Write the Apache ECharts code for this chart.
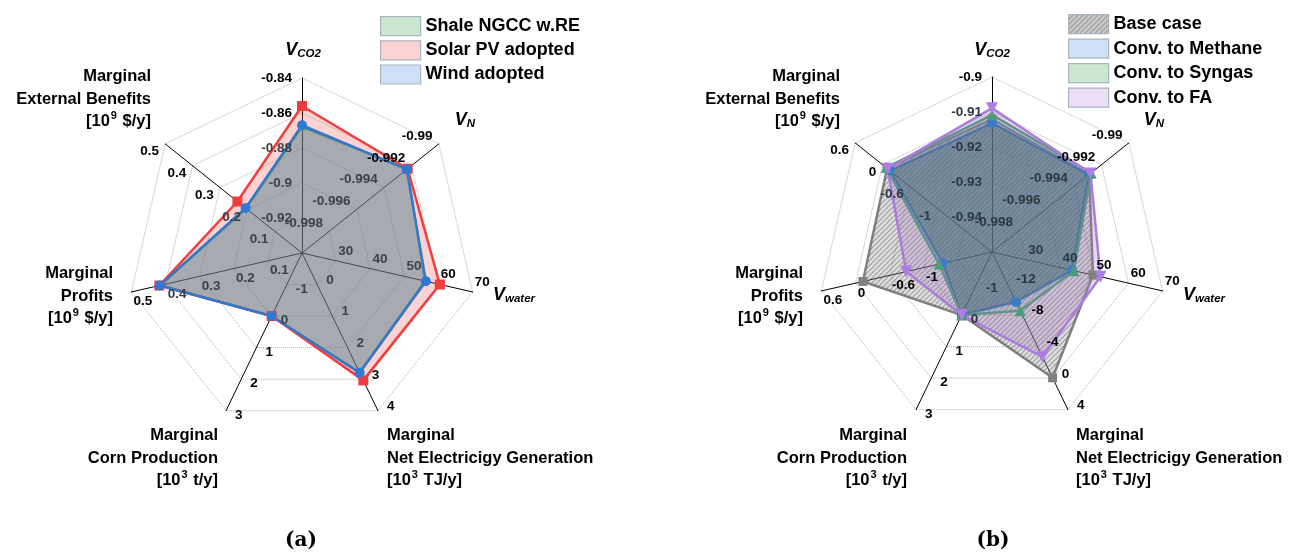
<!DOCTYPE html>
<html><head><meta charset="utf-8">
<script src="https://cdn.jsdelivr.net/npm/echarts@6/dist/echarts.min.js"></script>
<style>html,body{margin:0;padding:0;background:#fff}#c{width:1291px;height:553px}</style>
</head><body><div id="c"></div>
<script>
// Indicator order as ECharts lays them out (counter-clockwise from the top)
const indicatorKeys = ['V_CO2', 'ExtBen', 'Profits', 'Corn', 'NetElec', 'Water', 'V_N'];

// ---- Panel (a) axis ranges and tick labels (ring 0 = centre ... ring 5 = outer) ----
const minA = [-0.94, 0, 0, -2, -1, 20, -1.0];
const maxA = [-0.84, 0.5, 0.5, 3, 4, 70, -0.99];
const ticksA = [
  ['', '-0.92', '-0.9', '-0.88', '-0.86', '-0.84'],
  ['', '0.1', '0.2', '0.3', '0.4', '0.5'],
  ['', '0.1', '0.2', '0.3', '0.4', '0.5'],
  ['', '-1', '0', '1', '2', '3'],
  ['', '0', '1', '2', '3', '4'],
  ['', '30', '40', '50', '60', '70'],
  ['', '-0.998', '-0.996', '-0.994', '-0.992', '-0.99']
];
// ---- Panel (b) axis ranges and tick labels ----
const minB = [-0.95, -2.4, -2.4, -2, -16, 20, -1.0];
const maxB = [-0.90, 0.6, 0.6, 3, 4, 70, -0.99];
const ticksB = [
  ['', '-0.94', '-0.93', '-0.92', '-0.91', '-0.9'],
  ['', '', '-1', '-0.6', '0', '0.6'],
  ['', '', '-1', '-0.6', '0', '0.6'],
  ['', '-1', '0', '1', '2', '3'],
  ['', '-12', '-8', '-4', '0', '4'],
  ['', '30', '40', '50', '60', '70'],
  ['', '-0.998', '-0.996', '-0.994', '-0.992', '-0.99']
];

// ---- Series values (same order as indicatorKeys) ----
const shaleNGCC = [-0.868, 0.204, 0.415, 0.0, 2.78, 56.0, -0.9923];
const solarPV   = [-0.856, 0.236, 0.418, 0.0, 3.04, 60.4, -0.99228];
const windAdopt = [-0.867, 0.206, 0.417, 0.0, 2.80, 56.3, -0.99234];

const baseCase   = [-0.912, -0.10, -0.13, 0.0, -0.04, 49.6, -0.9929];
const convMeth   = [-0.9131, -0.16, -1.53, 0.0, -9.66, 43.5, -0.9929];
const convSyngas = [-0.9108, -0.08, -1.47, 0.0, -8.55, 44.0, -0.99275];
const convFA     = [-0.9089, -0.11, -0.89, 0.0, -2.70, 51.8, -0.9928];

const FONT = 'Arial, "Liberation Sans", sans-serif';

function hatch(bg, line, size) {
  const c = document.createElement('canvas');
  c.width = size; c.height = size;
  const g = c.getContext('2d');
  g.fillStyle = bg; g.fillRect(0, 0, size, size);
  g.strokeStyle = line; g.lineWidth = 1.2;
  g.beginPath();
  g.moveTo(-1, size + 1); g.lineTo(size + 1, -1);
  g.moveTo(-1, 1); g.lineTo(1, -1);
  g.moveTo(size - 1, size + 1); g.lineTo(size + 1, size - 1);
  g.stroke();
  return c;
}
const hatchArea = hatch('rgba(150,150,150,0.30)', 'rgba(80,80,80,0.45)', 5);
const hatchLegend = hatch('#d2d2d2', '#8a8a8a', 5);

function indicators(mins, maxs, ticks, inner, dim) {
  return indicatorKeys.map((k, i) => {
    const step = (maxs[i] - mins[i]) / 5;
    return {
      name: k, min: mins[i], max: maxs[i],
      axisLabel: {
        formatter: function (v) {
          const idx = Math.round((v - mins[i]) / step);
          return ticks[i][idx] || '';
        },
        color: function (v) {
          return parseFloat(v) <= inner[i] + step * 0.1 ? dim : '#000';
        }
      }
    };
  });
}

// lower radar: axis lines and dotted rings (under the series)
function radarGrid(center, mins, maxs) {
  return {
    center: center, radius: 175, startAngle: 90, splitNumber: 5, shape: 'polygon', z: 0,
    indicator: indicatorKeys.map((k, i) => ({ name: k, min: mins[i], max: maxs[i] })),
    axisName: { show: false },
    axisLine: { lineStyle: { color: '#000', width: 1 } },
    axisTick: { show: false },
    axisLabel: { show: false },
    splitLine: { lineStyle: { color: '#b0b0b0', type: 'dotted', width: 1 } },
    splitArea: { show: false }
  };
}
// upper radar: only tick labels (above the series)
function radarLabels(center, mins, maxs, ticks, inner, dim) {
  return {
    center: center, radius: 175, startAngle: 90, splitNumber: 5, shape: 'polygon', z: 5,
    indicator: indicators(mins, maxs, ticks, inner, dim),
    axisName: { show: false },
    axisLine: { show: false },
    axisTick: { show: false },
    splitLine: { show: false },
    splitArea: { show: false },
    axisLabel: { show: true, fontSize: 13.5, fontWeight: 'bold', fontFamily: FONT, margin: 10 }
  };
}

function item(name, value, color, fill, symbol, size, lw) {
  return {
    name: name, value: value, symbol: symbol, symbolSize: size,
    itemStyle: { color: color },
    lineStyle: { color: color, width: lw || 2.5 },
    areaStyle: { color: fill, opacity: 1 }
  };
}
const downTri = 'path://M0,0L10,0L5,9Z';

const series = [
  { type: 'radar', radarIndex: 0, data: [item('Shale NGCC w.RE', shaleNGCC, '#52a35e', 'rgba(110,190,120,0.15)', 'triangle', 7, 2)] },
  { type: 'radar', radarIndex: 0, data: [item('Solar PV adopted', solarPV, '#f03c3c', 'rgba(240,80,80,0.25)', 'rect', 10)] },
  { type: 'radar', radarIndex: 0, data: [item('Wind adopted', windAdopt, '#2e78d6', 'rgba(75,125,150,0.42)', 'circle', 10)] },
  { type: 'radar', radarIndex: 1, data: [item('Base case', baseCase, '#808080', { image: hatchArea, repeat: 'repeat' }, 'rect', 9)] },
  { type: 'radar', radarIndex: 1, data: [item('Conv. to Methane', convMeth, '#3b7bc8', 'rgba(10,78,88,0.52)', 'circle', 10)] },
  { type: 'radar', radarIndex: 1, data: [item('Conv. to Syngas', convSyngas, '#4a9d78', 'rgba(80,160,120,0.2)', 'triangle', 11)] },
  { type: 'radar', radarIndex: 1, data: [item('Conv. to FA', convFA, '#ad7de3', 'rgba(165,120,195,0.28)', downTri, 12)] }
];

const legendText = { fontSize: 18, fontWeight: 'bold', color: '#000', fontFamily: FONT };
function legItem(name, fill) {
  return { name: name, icon: 'rect', itemStyle: { color: fill, borderColor: '#a9b4bf', borderWidth: 1.2 } };
}

function nameBlock(l1, l2, unitBase, unitTail, x, y, align) {
  return {
    type: 'text', x: x, y: y, silent: true,
    style: {
      text: '{b|' + l1 + '}\n{b|' + l2 + '}\n{b|[10}{sup|' + unitBase + '}{b|' + unitTail + ']}',
      align: align, verticalAlign: 'middle',
      rich: {
        b: { fontSize: 16.5, fontWeight: 'bold', fontFamily: FONT, lineHeight: 22.5, fill: '#000', align: align },
        sup: { fontSize: 11, fontWeight: 'bold', fontFamily: FONT, lineHeight: 22.5, fill: '#000', verticalAlign: 'top', padding: [0, 1, 8, 1] }
      }
    }
  };
}
function vName(sub, x, y, align) {
  return {
    type: 'text', x: x, y: y, silent: true,
    style: {
      text: '{v|V}{s|' + sub + '}', align: align, verticalAlign: 'middle',
      rich: {
        v: { fontSize: 18, fontWeight: 'bold', fontStyle: 'italic', fontFamily: FONT, fill: '#000', lineHeight: 20 },
        s: { fontSize: 11.5, fontWeight: 'bold', fontStyle: 'italic', fontFamily: FONT, fill: '#000', lineHeight: 20, verticalAlign: 'bottom', padding: [6, 0, 0, 0] }
      }
    }
  };
}
function caption(t, x) {
  return { type: 'text', x: x, y: 541, silent: true,
    style: { text: t, align: 'center', verticalAlign: 'middle', fontSize: 20, fontWeight: 'bold', fontFamily: '"DejaVu Serif", "Liberation Serif", serif', fill: '#000' } };
}

const graphics = [
  vName('CO2', 303, 50, 'center'),
  vName('N', 465, 120, 'center'),
  vName('water', 493, 295, 'left'),
  nameBlock('Marginal', 'External Benefits', '9', ' $/y', 151, 99, 'right'),
  nameBlock('Marginal', 'Profits', '9', ' $/y', 113, 296, 'right'),
  nameBlock('Marginal', 'Corn Production', '3', ' t/y', 218, 458, 'right'),
  nameBlock('Marginal', 'Net Electricigy Generation', '3', ' TJ/y', 387, 458, 'left'),
  vName('CO2', 992, 50, 'center'),
  vName('N', 1154, 120, 'center'),
  vName('water', 1183, 295, 'left'),
  nameBlock('Marginal', 'External Benefits', '9', ' $/y', 840, 99, 'right'),
  nameBlock('Marginal', 'Profits', '9', ' $/y', 803, 296, 'right'),
  nameBlock('Marginal', 'Corn Production', '3', ' t/y', 907, 458, 'right'),
  nameBlock('Marginal', 'Net Electricigy Generation', '3', ' TJ/y', 1076, 458, 'left'),
  caption('(a)', 301),
  caption('(b)', 993)
];

const innerB = convMeth.map((v, i) => Math.max(v, convSyngas[i]));

const chart = echarts.init(document.getElementById('c'), null, { renderer: 'canvas' });
chart.setOption({
  animation: false,
  backgroundColor: '#fff',
  radar: [
    radarGrid([302, 253], minA, maxA),
    radarGrid([992, 252], minB, maxB),
    radarLabels([302, 253], minA, maxA, ticksA, windAdopt, '#3c4148'),
    radarLabels([992, 252], minB, maxB, ticksB, innerB, '#2c3742')
  ],
  legend: [
    { orient: 'vertical', left: 375, top: 11, itemWidth: 40, itemHeight: 19, itemGap: 4, textStyle: legendText, selectedMode: false,
      data: [legItem('Shale NGCC w.RE', '#cce7cf'), legItem('Solar PV adopted', '#fbd3d4'), legItem('Wind adopted', '#cfe0f6')] },
    { orient: 'vertical', left: 1063, top: 9, itemWidth: 40, itemHeight: 19, itemGap: 4.3, textStyle: legendText, selectedMode: false,
      data: [legItem('Base case', { image: hatchLegend, repeat: 'repeat' }), legItem('Conv. to Methane', '#cfe0f6'), legItem('Conv. to Syngas', '#cce7cf'), legItem('Conv. to FA', '#ecdff5')] }
  ],
  graphic: graphics,
  series: series
});
</script>
</body></html>
